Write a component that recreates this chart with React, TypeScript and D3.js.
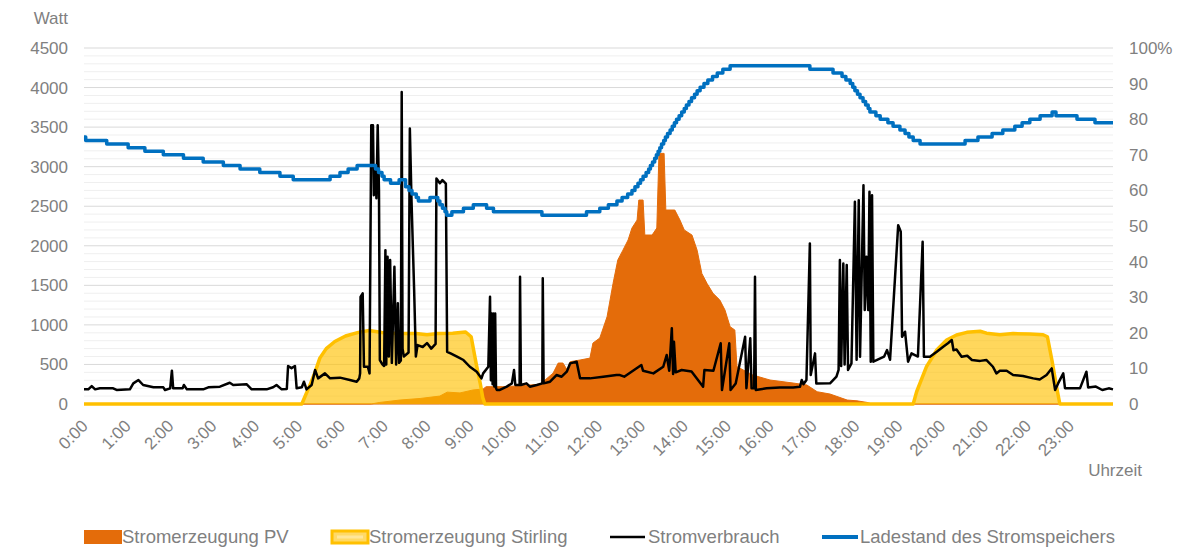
import React from "react";
import * as d3 from "d3";

// time in hours, value in Watt / percent
const hours = d3.range(0, 24);

const pvData: [number, number][] = [
  [0, 0], [6.7, 0], [6.9, 20], [7.37, 50], [7.84, 70], [8.3, 100], [8.47, 150], [8.77, 140],
  [9.07, 177], [9.31, 190], [9.38, 219], [9.77, 219], [10.17, 230], [10.64, 250], [10.94, 390],
  [11.06, 518], [11.17, 518], [11.27, 430], [11.34, 535], [11.57, 556], [11.8, 580], [11.87, 770],
  [12.03, 834], [12.2, 1103], [12.34, 1525], [12.45, 1820], [12.57, 1945], [12.69, 2073],
  [12.78, 2224], [12.9, 2325], [12.94, 2578], [13.04, 2578], [13.08, 2136], [13.25, 2136],
  [13.36, 2224], [13.41, 3168], [13.53, 3168], [13.57, 2452], [13.78, 2452], [13.9, 2325],
  [14.0, 2200], [14.18, 2136], [14.3, 1945], [14.41, 1650], [14.53, 1525], [14.67, 1400],
  [14.83, 1314], [14.95, 1188], [15.07, 977], [15.18, 935], [15.23, 472], [15.6, 366],
  [16.0, 303], [16.54, 265], [16.86, 240], [17.1, 155], [17.4, 126], [17.8, 50], [18.03, 40],
  [18.26, 20], [18.38, 0], [24, 0],
];

const stirlingData: [number, number][] = [
  [0, 0], [5.08, 0], [5.27, 240], [5.4, 420], [5.5, 580], [5.65, 700], [5.85, 790], [6.1, 860],
  [6.4, 905], [6.65, 930], [6.95, 905], [7.3, 890], [7.75, 890], [8.0, 875], [8.25, 890],
  [8.6, 895], [8.9, 910], [9.03, 850], [9.15, 500], [9.24, 265], [9.3, 80], [9.35, 0],
  [19.34, 0], [19.42, 155], [19.65, 472], [19.89, 682], [20.12, 809], [20.35, 872], [20.59, 906],
  [20.9, 920], [21.05, 895], [21.36, 875], [21.67, 890], [22.06, 885], [22.37, 875], [22.47, 850],
  [22.58, 540], [22.69, 200], [22.76, 0], [24, 0],
];

const verbrauchData: [number, number][] = [
  [0.0, 185], [0.1, 185], [0.18, 227], [0.26, 185], [0.37, 198], [0.68, 198], [0.76, 177], [1.07, 185],
  [1.15, 261], [1.27, 303], [1.38, 240], [1.62, 211], [1.85, 211], [1.89, 177], [2.01, 198], [2.05, 421],
  [2.08, 198], [2.3, 198], [2.33, 240], [2.4, 185], [2.78, 185], [2.9, 211], [3.17, 219], [3.4, 269],
  [3.48, 240], [3.79, 250], [3.91, 185], [4.26, 185], [4.41, 211], [4.49, 240], [4.61, 185], [4.73, 190],
  [4.76, 480], [4.84, 453], [4.92, 480], [4.96, 198], [5.08, 211], [5.13, 282], [5.19, 185], [5.31, 240],
  [5.39, 430], [5.46, 324], [5.62, 387], [5.74, 324], [5.97, 333], [6.2, 303], [6.36, 282], [6.42, 324],
  [6.44, 387], [6.45, 1355], [6.5, 1398], [6.53, 471], [6.62, 471], [6.66, 387], [6.7, 3524], [6.74, 3524],
  [6.76, 2640], [6.8, 3000], [6.82, 2600], [6.85, 3524], [6.88, 2700], [6.9, 556], [6.96, 500], [7.0, 480],
  [7.03, 1945], [7.05, 500], [7.08, 1860], [7.11, 600], [7.14, 1819], [7.18, 520], [7.24, 1734], [7.28, 500],
  [7.32, 1275], [7.35, 520], [7.39, 550], [7.41, 3944], [7.43, 700], [7.46, 600], [7.57, 650], [7.6, 3482],
  [7.64, 2550], [7.7, 1440], [7.74, 600], [7.78, 745], [7.9, 720], [8.0, 770], [8.1, 700], [8.2, 760],
  [8.22, 2850], [8.3, 2790], [8.36, 2830], [8.44, 2787], [8.47, 660], [8.55, 640], [8.7, 600], [8.85, 556],
  [9.0, 471], [9.16, 408], [9.27, 324], [9.31, 387], [9.43, 471], [9.47, 1355], [9.49, 300], [9.51, 1145],
  [9.53, 250], [9.55, 1145], [9.57, 220], [9.59, 1145], [9.61, 200], [9.63, 177], [9.7, 177], [9.86, 219],
  [9.98, 261], [10.03, 430], [10.06, 240], [10.16, 240], [10.17, 1608], [10.19, 240], [10.32, 261],
  [10.4, 219], [10.56, 240], [10.69, 261], [10.7, 1588], [10.72, 261], [10.87, 282], [11.02, 366],
  [11.14, 345], [11.26, 408], [11.34, 514], [11.49, 535], [11.57, 324], [11.8, 324], [12.11, 345],
  [12.42, 366], [12.5, 366], [12.6, 345], [13.0, 493], [13.04, 420], [13.28, 387], [13.51, 471],
  [13.59, 619], [13.65, 420], [13.71, 956], [13.74, 380], [13.76, 787], [13.8, 400], [13.94, 430],
  [14.17, 410], [14.44, 219], [14.47, 430], [14.68, 420], [14.85, 767], [14.88, 177], [15.05, 767],
  [15.08, 177], [15.2, 260], [15.42, 850], [15.45, 200], [15.54, 830], [15.57, 200], [15.63, 200],
  [15.65, 1608], [15.67, 177], [15.92, 198], [16.23, 210], [16.54, 210], [16.7, 219], [16.74, 303],
  [16.78, 250], [16.85, 303], [16.93, 2030], [16.95, 366], [17.05, 640], [17.08, 260], [17.4, 261],
  [17.55, 345], [17.6, 430], [17.63, 1819], [17.66, 480], [17.71, 1777], [17.74, 500], [17.79, 1756],
  [17.82, 430], [17.9, 514], [17.98, 2555], [18.02, 560], [18.07, 2577], [18.1, 598], [18.18, 2766],
  [18.21, 1188], [18.25, 1860], [18.29, 1188], [18.32, 2683], [18.35, 535], [18.38, 2640], [18.41, 535],
  [18.66, 598], [18.73, 682], [18.8, 560], [18.99, 2261], [19.05, 2177], [19.08, 850], [19.15, 914],
  [19.22, 535], [19.3, 640], [19.45, 600], [19.56, 2050], [19.59, 598], [19.73, 598], [19.89, 661],
  [20.04, 724], [20.15, 767], [20.24, 808], [20.28, 680], [20.35, 690], [20.47, 598], [20.6, 610],
  [20.71, 556], [20.9, 545], [21.05, 556], [21.2, 471], [21.28, 387], [21.36, 420], [21.52, 420],
  [21.67, 366], [21.9, 355], [22.14, 324], [22.29, 310], [22.45, 366], [22.57, 450], [22.65, 177],
  [22.72, 260], [22.84, 387], [22.88, 200], [23.23, 198], [23.38, 408], [23.42, 210], [23.6, 220],
  [23.75, 177], [23.9, 198], [24.0, 185],
];

// Ladestand (%) at each step change
const ladestandData: [number, number][] = [
  [0, 75], [0.04, 74], [0.53, 73], [1.03, 72], [1.42, 71], [1.85, 70], [2.32, 69], [2.78, 68], [3.25, 67],
  [3.64, 66], [4.1, 65], [4.57, 64], [4.88, 63], [5.74, 64], [5.97, 65], [6.16, 66], [6.37, 67], [6.8, 66],
  [6.87, 65], [6.95, 64], [7.0, 63], [7.15, 62], [7.35, 63], [7.5, 61], [7.58, 60], [7.65, 59], [7.75, 58],
  [7.8, 57], [8.07, 58], [8.25, 57], [8.3, 56], [8.36, 55], [8.42, 54], [8.46, 53], [8.58, 54], [8.85, 55],
  [9.08, 56], [9.39, 55], [9.55, 54], [10.68, 53], [11.72, 54], [12.03, 55], [12.23, 56], [12.43, 57],
  [12.55, 58], [12.68, 59], [12.78, 60], [12.85, 61], [12.92, 62], [12.98, 63], [13.04, 64], [13.11, 65],
  [13.17, 66], [13.21, 67], [13.26, 68], [13.31, 69], [13.35, 70], [13.39, 71], [13.43, 72], [13.47, 73],
  [13.52, 74], [13.56, 75], [13.61, 76], [13.67, 77], [13.72, 78], [13.77, 79], [13.82, 80], [13.88, 81],
  [13.94, 82], [14.0, 83], [14.05, 84], [14.11, 85], [14.17, 86], [14.24, 87], [14.3, 88], [14.37, 89],
  [14.46, 90], [14.55, 91], [14.66, 92], [14.77, 93], [14.9, 94], [15.07, 95], [16.93, 94], [17.47, 93],
  [17.68, 92], [17.77, 91], [17.87, 90], [17.93, 89], [17.98, 88], [18.04, 87], [18.1, 86], [18.17, 85],
  [18.23, 84], [18.29, 83], [18.33, 82], [18.47, 81], [18.57, 80], [18.75, 79], [18.87, 78], [19.03, 77],
  [19.15, 76], [19.24, 75], [19.34, 74], [19.5, 73], [20.55, 74], [20.85, 75], [21.18, 76], [21.43, 77],
  [21.71, 78], [21.88, 79], [22.06, 80], [22.3, 81], [22.58, 82], [22.67, 81], [23.16, 80], [23.58, 79],
  [24, 79],
];

const wattTicks = d3.range(0, 4501, 500);
const minorTicks = d3.range(0, 4501, 100);
const pctTicks = d3.range(0, 101, 10);

const legendItems = [
  { label: "Stromerzeugung PV", kind: "pv", x: 84 },
  { label: "Stromerzeugung Stirling", kind: "stirling", x: 331 },
  { label: "Stromverbrauch", kind: "verbrauch", x: 610 },
  { label: "Ladestand des Stromspeichers", kind: "ladestand", x: 822 },
];

const W = 1201, H = 548;
const left = 84, right = 1113, top = 48, bottom = 404;
const grey = "#808080";
const font = "'Liberation Sans', Arial, sans-serif";

export default function App() {
  const x = d3.scaleLinear().domain([0, 24]).range([left, right]);
  const yW = d3.scaleLinear().domain([0, 4500]).range([bottom, top]);
  const yP = d3.scaleLinear().domain([0, 100]).range([bottom, top]);

  const area = d3.area<[number, number]>().x((d) => x(d[0])).y0(bottom).y1((d) => yW(d[1]));
  const lineW = d3.line<[number, number]>().x((d) => x(d[0])).y((d) => yW(d[1]));
  const lineP = d3
    .line<[number, number]>()
    .x((d) => x(d[0]))
    .y((d) => yP(d[1]))
    .curve(d3.curveStepAfter);

  return (
    <svg width={W} height={H} style={{ position: "absolute", left: 0, top: 0, background: "#fff" }}>
      <rect width={W} height={H} fill="#fff" />
      {/* grid */}
      {minorTicks.filter((v) => v % 500 !== 0).map((v) => (
        <line key={"m" + v} x1={left} x2={right} y1={yW(v)} y2={yW(v)} stroke="#efefef" strokeWidth={1} />
      ))}
      {wattTicks.map((v) => (
        <line key={"g" + v} x1={left} x2={right} y1={yW(v)} y2={yW(v)} stroke="#d9d9d9" strokeWidth={1} />
      ))}

      {/* series */}
      <path d={area(pvData) || ""} fill="#E46C0A" stroke="#E46C0A" strokeWidth={1} />
      <path d={area(stirlingData) || ""} fill="rgba(255,192,0,0.64)" />
      <path d={lineW(stirlingData) || ""} fill="none" stroke="#FFC000" strokeWidth={3.5} strokeLinejoin="round" />
      <path d={lineW(verbrauchData) || ""} fill="none" stroke="#000" strokeWidth={2.5} strokeLinejoin="round" />
      <path d={lineP(ladestandData) || ""} fill="none" stroke="#0070C0" strokeWidth={3.5} strokeLinejoin="round" />

      {/* axes */}
      <g fontFamily={font} fontSize={17} fill={grey}>
        {wattTicks.map((v) => (
          <text key={"l" + v} x={68} y={yW(v)} dy="0.35em" textAnchor="end">{v}</text>
        ))}
        <text x={68} y={18} dy="0.35em" textAnchor="end">Watt</text>
        {pctTicks.map((v) => (
          <text key={"r" + v} x={1129} y={yP(v)} dy="0.35em" textAnchor="start">
            {v === 100 ? "100%" : v}
          </text>
        ))}
        {hours.map((h) => (
          <text key={"h" + h} transform={`translate(${x(h) + 5},${bottom + 23}) rotate(-45)`} textAnchor="end">
            {h + ":00"}
          </text>
        ))}
        <text x={1142} y={470} dy="0.35em" textAnchor="end">Uhrzeit</text>
      </g>

      {/* legend */}
      <g fontFamily={font} fontSize={18.5} fill={grey}>
        {legendItems.map((it) => {
          const cy = 537;
          let sym;
          if (it.kind === "pv") sym = <rect x={it.x} y={cy - 7} width={38} height={14} fill="#E46C0A" />;
          else if (it.kind === "stirling")
            sym = (
              <g>
                <rect x={it.x + 1} y={cy - 6} width={36} height={12} fill="#FFD966" stroke="#FFC000" strokeWidth={3} />
                <line x1={it.x + 6} x2={it.x + 32} y1={cy} y2={cy} stroke="#FFE699" strokeWidth={3} />
              </g>
            );
          else if (it.kind === "verbrauch")
            sym = <line x1={it.x} x2={it.x + 35} y1={cy} y2={cy} stroke="#000" strokeWidth={2.5} />;
          else sym = <line x1={it.x} x2={it.x + 36} y1={cy} y2={cy} stroke="#0070C0" strokeWidth={4} />;
          return (
            <g key={it.label}>
              {sym}
              <text x={it.x + 38} y={cy} dy="0.35em">{it.label}</text>
            </g>
          );
        })}
      </g>
    </svg>
  );
}
